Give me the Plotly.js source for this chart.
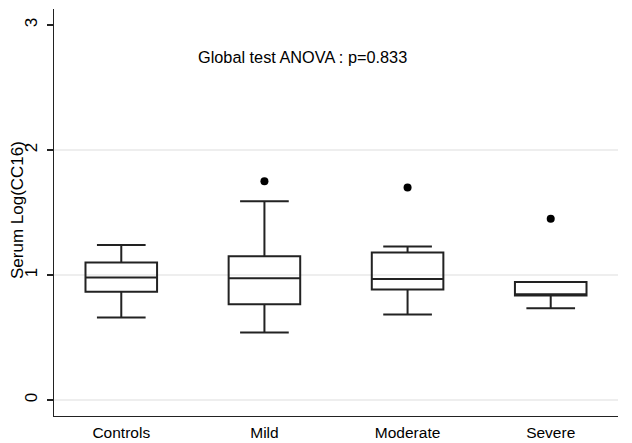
<!DOCTYPE html>
<html>
<head>
<meta charset="utf-8">
<script src="https://cdn.plot.ly/plotly-3.0.1.min.js"></script>
<style>html,body{margin:0;padding:0;background:#fff;}#chart{width:632px;height:443px;}</style>
</head>
<body>
<div id="chart"></div>
<script>
var categories = ['Controls', 'Mild', 'Moderate', 'Severe'];
var lowerWhisker = [0.66, 0.54, 0.683, 0.733];
var q1Values = [0.866, 0.765, 0.883, 0.835];
var medianValues = [0.98, 0.973, 0.968, 0.845];
var q3Values = [1.10, 1.15, 1.18, 0.944];
var upperWhisker = [1.24, 1.59, 1.227, 0.944];
var outlierGroups = ['Mild', 'Moderate', 'Severe'];
var outlierValues = [1.75, 1.70, 1.45];
var gridValues = [0, 1, 2];
var yTicks = [0, 1, 2, 3];
var annotationText = 'Global test ANOVA : p=0.833';
var yTitle = 'Serum Log(CC16)';

var font = 'Liberation Sans, Arial, sans-serif';

var traces = [
  {
    type: 'box',
    x: categories,
    q1: q1Values,
    median: medianValues,
    q3: q3Values,
    lowerfence: lowerWhisker,
    upperfence: upperWhisker,
    width: 0.5,
    whiskerwidth: 0.68,
    fillcolor: 'rgba(255,255,255,0)',
    line: {color: '#222222', width: 2},
    boxpoints: false,
    hoverinfo: 'skip',
    showlegend: false
  },
  {
    type: 'scatter',
    mode: 'markers',
    x: outlierGroups,
    y: outlierValues,
    marker: {color: '#000000', size: 8, symbol: 'circle'},
    hoverinfo: 'skip',
    showlegend: false
  }
];

var shapes = gridValues.map(function (v) {
  return {type: 'line', xref: 'paper', yref: 'y', x0: 0, x1: 1, y0: v, y1: v,
          line: {color: '#e8e8e8', width: 1.5}, layer: 'below'};
});

var layout = {
  width: 632, height: 443,
  margin: {l: 54, r: 14, t: 9, b: 27},
  paper_bgcolor: '#ffffff',
  plot_bgcolor: '#ffffff',
  font: {family: font, size: 16, color: '#000000'},
  xaxis: {
    type: 'category',
    categoryorder: 'array',
    categoryarray: categories,
    range: [-0.47, 3.47],
    showgrid: false,
    zeroline: false,
    showline: true,
    linecolor: '#222222',
    linewidth: 1.3,
    ticks: '',
    ticklabelstandoff: 2,
    tickfont: {family: font, size: 15.5, color: '#000000'}
  },
  yaxis: {
    range: [-0.128, 3.128],
    tickvals: yTicks,
    ticktext: yTicks.map(String),
    tickangle: -90,
    ticks: 'outside',
    ticklen: 6,
    tickcolor: '#222222',
    tickwidth: 1.2,
    ticklabelstandoff: 3,
    showgrid: false,
    zeroline: false,
    showline: true,
    linecolor: '#222222',
    linewidth: 1.3,
    tickfont: {family: font, size: 17, color: '#000000'}
  },
  shapes: shapes,
  annotations: [{
    text: annotationText,
    xref: 'paper', yref: 'paper',
    x: (302.5 - 54) / 564, y: 1 - (57 - 9) / 407,
    xanchor: 'center', yanchor: 'middle',
    showarrow: false,
    font: {family: font, size: 16.3, color: '#000000'}
  }, {
    text: yTitle,
    xref: 'paper', yref: 'paper',
    x: (18 - 54) / 564, y: 1 - (210 - 9) / 407,
    xanchor: 'center', yanchor: 'middle',
    textangle: -90,
    showarrow: false,
    font: {family: font, size: 17, color: '#000000'}
  }]
};

Plotly.newPlot('chart', traces, layout, {displayModeBar: false, staticPlot: true});
</script>
</body>
</html>
